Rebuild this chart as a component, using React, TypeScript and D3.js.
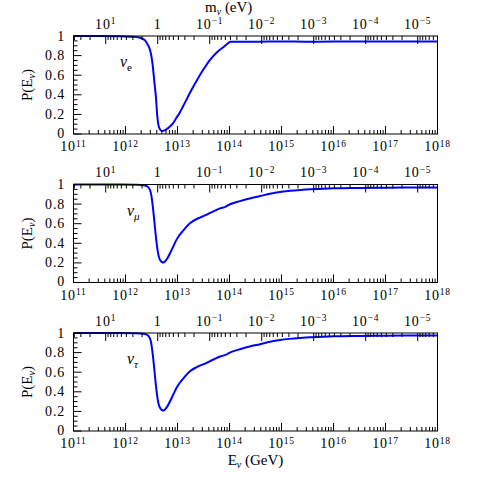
import React from "react";
import * as d3 from "d3";

// energy decades on the bottom axis and neutrino mass decades on the top axis
const energyExps = [11, 12, 13, 14, 15, 16, 17, 18];
const massExps = [1, 0, -1, -2, -3, -4, -5];
const yTickValues = [0, 0.2, 0.4, 0.6, 0.8, 1];
const yTickLabels = ["0", "0.2", "0.4", "0.6", "0.8", "1"];
const flavourNames = ["e", "μ", "τ"];

// Z-burst resonance: E_res = M_Z^2 / (2 m_nu), in GeV for m in eV
const resonanceGeV = 4.16e12;

// nu_e survival probability (log10 E in GeV)
const logE_e = [11, 11.5, 11.9, 12.1, 12.28, 12.375, 12.44, 12.47, 12.5, 12.523, 12.554, 12.587, 12.61, 12.65, 12.7, 12.76, 12.83, 12.9, 12.98, 13.05, 13.11, 13.24, 13.37, 13.5, 13.63, 13.75, 13.88, 13.98, 14.02, 14.5, 15, 15.5, 16, 16.5, 17, 17.5, 18];
const prob_e = [1, 1, 0.998, 0.993, 0.983, 0.955, 0.9, 0.86, 0.79, 0.7, 0.538, 0.365, 0.19, 0.06, 0.03, 0.04, 0.065, 0.1, 0.165, 0.225, 0.285, 0.42, 0.545, 0.66, 0.76, 0.83, 0.885, 0.928, 0.942, 0.942, 0.944, 0.942, 0.943, 0.944, 0.943, 0.943, 0.943];

// nu_mu
const logE_mu = [11, 11.5, 11.9, 12.2, 12.375, 12.44, 12.485, 12.52, 12.554, 12.587, 12.62, 12.66, 12.727, 12.79, 12.89, 12.985, 13.11, 13.24, 13.37, 13.43, 13.53, 13.625, 13.72, 13.82, 13.92, 13.98, 14.05, 14.2, 14.39, 14.59, 14.78, 14.97, 15.16, 15.36, 15.55, 15.7, 16, 16.5, 17, 17.5, 18];
const prob_mu = [1, 1, 1, 0.998, 0.99, 0.97, 0.92, 0.8, 0.63, 0.455, 0.32, 0.235, 0.203, 0.235, 0.335, 0.44, 0.53, 0.605, 0.648, 0.662, 0.684, 0.71, 0.733, 0.757, 0.772, 0.79, 0.806, 0.83, 0.858, 0.882, 0.906, 0.924, 0.935, 0.944, 0.951, 0.955, 0.961, 0.965, 0.968, 0.97, 0.97];

// nu_tau
const logE_tau = [11, 11.5, 11.9, 12.2, 12.375, 12.44, 12.485, 12.52, 12.554, 12.587, 12.62, 12.66, 12.727, 12.79, 12.89, 12.985, 13.11, 13.24, 13.37, 13.43, 13.53, 13.625, 13.72, 13.82, 13.92, 13.98, 14.05, 14.2, 14.39, 14.59, 14.78, 14.97, 15.16, 15.36, 15.55, 15.7, 16, 16.5, 17, 17.5, 18];
const prob_tau = [1, 1, 1, 0.998, 0.99, 0.97, 0.92, 0.8, 0.63, 0.455, 0.32, 0.24, 0.208, 0.24, 0.34, 0.445, 0.535, 0.61, 0.652, 0.667, 0.688, 0.713, 0.737, 0.76, 0.776, 0.793, 0.81, 0.834, 0.862, 0.886, 0.91, 0.928, 0.94, 0.949, 0.956, 0.96, 0.966, 0.97, 0.973, 0.975, 0.975];

const seriesE = [logE_e, logE_mu, logE_tau];
const seriesP = [prob_e, prob_mu, prob_tau];

const W = 477, H = 477;
const left = 73.5, right = 437.5;
const panelTops = [36, 184.5, 333];
const panelH = 98;
const font = "'Liberation Serif', 'Times New Roman', serif";

const x = d3.scaleLog().domain([1e11, 1e18]).range([left, right]);

const Pow10 = ({ x, y, exp }: { x: number; y: number; exp: number }) => {
  if (exp === 0) {
    return <text x={x} y={y} textAnchor="middle" fontSize={14} letterSpacing={0.8}>1</text>;
  }
  const e = exp < 0 ? "\u2212" + Math.abs(exp) : String(exp);
  return (
    <text x={x} y={y} textAnchor="middle" fontSize={14} letterSpacing={0.8}>
      10<tspan dy={-4.5} fontSize={9.5}>{e}</tspan>
    </text>
  );
};

const Panel = ({ idx }: { idx: number }) => {
  const top = panelTops[idx];
  const bottom = top + panelH;
  const y = d3.scaleLinear().domain([0, 1]).range([bottom, top]);

  const eTicks: { v: number; major: boolean }[] = [];
  for (let d = 11; d < 18; d++) {
    for (let j = 1; j <= 9; j++) eTicks.push({ v: j * Math.pow(10, d), major: j === 1 });
  }

  const mTicks: { v: number; major: boolean }[] = [];
  for (let k = -7; k <= 2; k++) {
    for (let j = 1; j <= 9; j++) {
      const E = resonanceGeV / (j * Math.pow(10, k));
      if (E > 1e11 && E < 1e18) mTicks.push({ v: E, major: j === 1 });
    }
  }

  const yMinor = d3.range(0, 1.0001, 0.05);

  const line = d3
    .line<number>()
    .x((d) => x(Math.pow(10, seriesE[idx][d])))
    .y((d) => y(seriesP[idx][d]))
    .curve(d3.curveMonotoneX);

  return (
    <g>
      <path d={line(d3.range(seriesE[idx].length)) || ""} fill="none" stroke="#0000ff" strokeWidth={2} />
      {eTicks.map((t, i) => (
        <line key={"e" + i} x1={x(t.v)} x2={x(t.v)} y1={bottom} y2={bottom - (t.major ? 8 : 4)} stroke="#000" />
      ))}
      {mTicks.map((t, i) => (
        <line key={"m" + i} x1={x(t.v)} x2={x(t.v)} y1={top} y2={top + (t.major ? 8 : 4)} stroke="#000" />
      ))}
      {yMinor.map((v, i) => (
        <line key={"y" + i} x1={left} x2={left + (i % 4 === 0 ? 8 : 4)} y1={y(v)} y2={y(v)} stroke="#000" />
      ))}
      <rect x={left} y={top} width={right - left} height={panelH} fill="none" stroke="#000" />
      {energyExps.map((e) => (
        <Pow10 key={"el" + e} x={x(Math.pow(10, e))} y={bottom + 17} exp={e} />
      ))}
      {massExps.map((e) => (
        <Pow10 key={"ml" + e} x={x(resonanceGeV / Math.pow(10, e))} y={top - 7.5} exp={e} />
      ))}
      {yTickValues.map((v, i) => (
        <text key={"yl" + i} x={65} y={y(v) + (i === 0 ? 3.5 : 4.5)} textAnchor="end" fontSize={14} letterSpacing={0.8}>
          {yTickLabels[i]}
        </text>
      ))}
      <text transform={`translate(32,${top + panelH / 2}) rotate(-90)`} textAnchor="middle" fontSize={15}>
        P(E<tspan dy={3} fontSize={10} fontStyle="italic">ν</tspan><tspan dy={-3}>)</tspan>
      </text>
      <text x={idx === 0 ? 120 : 127} y={top + 31} fontSize={16} fontStyle="italic">
        ν<tspan dy={4} fontSize={11} fontStyle={idx === 0 ? "normal" : "italic"}>{flavourNames[idx]}</tspan>
      </text>
    </g>
  );
};

export default function App() {
  return (
    <svg width={W} height={H} style={{ display: "block", position: "absolute", left: 0, top: 0 }} fontFamily={font}>
      <rect width={W} height={H} fill="#fff" />
      {[0, 1, 2].map((i) => (
        <Panel key={i} idx={i} />
      ))}
      <text x={205} y={12} fontSize={15}>
        m<tspan dy={2.5} fontSize={10} fontStyle="italic">ν</tspan><tspan dy={-2.5}> (eV)</tspan>
      </text>
      <text x={255.5} y={465} textAnchor="middle" fontSize={15}>
        E<tspan dy={3} fontSize={10} fontStyle="italic">ν</tspan><tspan dy={-3}> (GeV)</tspan>
      </text>
    </svg>
  );
}
